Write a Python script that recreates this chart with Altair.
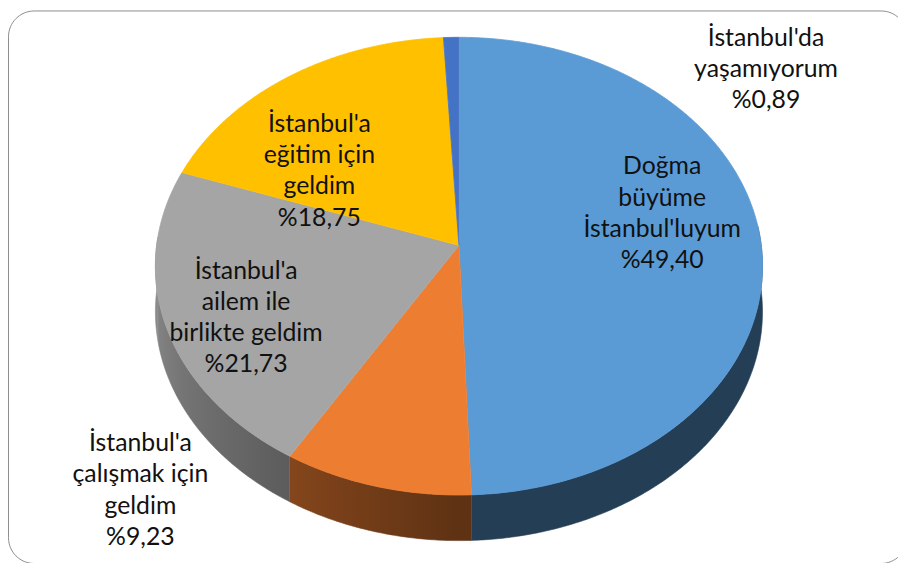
import math
import altair as alt
import pandas as pd

# ---- data ----
categories = [
    "Doğma büyüme İstanbul'luyum",
    "İstanbul'a çalışmak için geldim",
    "İstanbul'a ailem ile birlikte geldim",
    "İstanbul'a eğitim için geldim",
    "İstanbul'da yaşamıyorum",
]
values = [49.40, 9.23, 21.73, 18.75, 0.89]
label_lines = [
    ["Doğma", "büyüme", "İstanbul'luyum"],
    ["İstanbul'a", "çalışmak için", "geldim"],
    ["İstanbul'a", "ailem ile", "birlikte geldim"],
    ["İstanbul'a", "eğitim için", "geldim"],
    ["İstanbul'da", "yaşamıyorum"],
]
colors = [(91, 155, 213), (237, 125, 49), (165, 165, 165), (255, 192, 0), (68, 114, 196)]

# ---- layout / style (pie geometry in page pixels) ----
CX, CY = 463.0, 245.0       # pie centre on the top face
RA, RB = 305.0, 229.0       # horizontal / vertical radius
K = 0.0909                  # perspective strength
DEPTH = 46.0                # thickness of the pie
LH = 31.5                   # label line height
label_angle = [78.1, 224.35, 245.7, 305.4, 52.6]
label_radius = [0.696, 1.373, 0.751, 0.584, 1.376]

OX, OY = 8.0, 8.0           # page position of the view origin
W, H = 898, 555


def proj(theta, r=1.0, drop=0.0):
    t = math.radians(theta)
    u, v = r * math.sin(t), r * math.cos(t)
    d = 1 + K * v
    return CX + RA * u / d, CY - RB * v / d + drop


def hexc(rgb, f=1.0):
    return "#%02x%02x%02x" % tuple(max(0, min(255, int(round(c * f)))) for c in rgb)


def shade(theta):
    if theta <= 180:
        return 0.40
    return min(1.0, 0.40 + (theta - 180) * 0.0051)


total = sum(values)
starts, ends = [], []
acc = 0.0
for v in values:
    starts.append(acc / total * 360)
    acc += v
    ends.append(acc / total * 360)

xs = alt.Scale(domain=[OX, OX + W], nice=False, zero=False)
ys = alt.Scale(domain=[OY, OY + H], nice=False, zero=False, reverse=True)
X = alt.X("x:Q", scale=xs, axis=None)
Y = alt.Y("y:Q", scale=ys, axis=None)

layers = []

# frame (rounded border of the chart area, partly beyond the page edge)
layers.append(
    alt.Chart(pd.DataFrame({"a": [0]})).mark_rect(
        fillOpacity=0, stroke="#8c8c8c", strokeWidth=1, cornerRadius=26
    ).encode(x=alt.value(0.5), x2=alt.value(907), y=alt.value(0.5), y2=alt.value(558))
)

# side walls: one polygon per slice with a horizontal shading gradient
for i, (a0, a1) in enumerate(zip(starts, ends)):
    s0, s1 = max(a0, 85.0), min(a1, 272.0)
    if s1 <= s0:
        continue
    m = max(2, int(math.ceil((s1 - s0) / 0.5)))
    arc = [s0 + (s1 - s0) * j / m for j in range(m + 1)]
    top_pts = [proj(t) for t in arc]
    bot_pts = [proj(t, drop=DEPTH) for t in reversed(arc)]
    pts = top_pts + bot_pts
    rows = [{"x": x, "y": y, "ord": o} for o, (x, y) in enumerate(pts)]
    xmin = min(p[0] for p in pts)
    xmax = max(p[0] for p in pts)
    samples = sorted({round((proj(t)[0] - xmin) / (xmax - xmin), 3): shade(t) for t in arc[:: max(1, m // 12)] + [arc[-1]]}.items())
    stops = [alt.GradientStop(offset=o, color=hexc(colors[i], f)) for o, f in samples]
    grad = alt.LinearGradient(gradient="linear", stops=stops, x1=0, x2=1, y1=0, y2=0)
    layers.append(
        alt.Chart(pd.DataFrame(rows)).mark_line(fill=grad, stroke=grad, strokeWidth=0.6).encode(
            x=X, y=Y, order="ord:Q"
        )
    )

# top faces
top_rows = []
for i, (a0, a1) in enumerate(zip(starts, ends)):
    pts = [(CX, CY)]
    n = max(2, int(math.ceil((a1 - a0) / 0.5)))
    for j in range(n + 1):
        pts.append(proj(a0 + (a1 - a0) * j / n))
    for o, (x, y) in enumerate(pts):
        top_rows.append({"x": x, "y": y, "pid": categories[i], "ord": o, "fill": hexc(colors[i])})
top_df = pd.DataFrame(top_rows)
layers.append(
    alt.Chart(top_df).mark_line(strokeWidth=0.8).encode(
        x=X, y=Y, detail="pid:N", order="ord:Q",
        fill=alt.Fill("fill:N", scale=None),
        stroke=alt.Stroke("fill:N", scale=None),
    )
)

# labels
lab_rows = []
for i, v in enumerate(values):
    lines = label_lines[i] + ["%" + f"{v:.2f}".replace(".", ",")]
    x, y = proj(label_angle[i], label_radius[i])
    lab_rows.append({"x": x, "y": y - (len(lines) - 1) / 2 * LH, "lines": lines, "cat": categories[i]})
layers.append(
    alt.Chart(pd.DataFrame(lab_rows)).mark_text(
        font="Lato", fontSize=25, lineHeight=LH, align="center", baseline="middle", color="#111111"
    ).encode(x=X, y=Y, text="lines")
)

chart = alt.layer(*layers).properties(
    width=W, height=H, padding=0, autosize="none"
).configure_view(strokeWidth=0)

chart.save("out.html", embed_options={"renderer": "svg", "actions": False})
